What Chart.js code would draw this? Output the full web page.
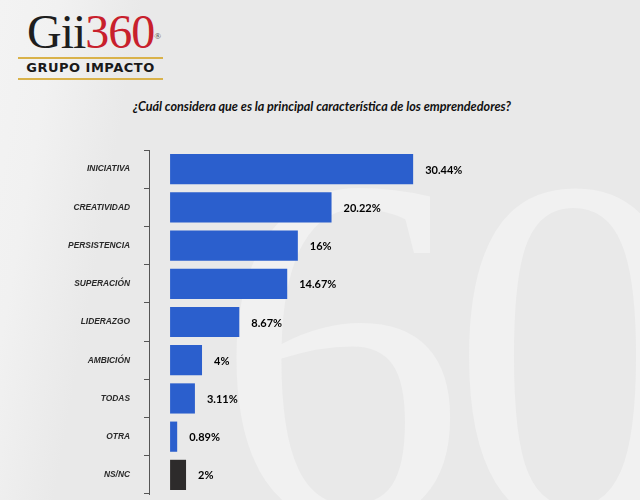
<!DOCTYPE html>
<html>
<head>
<meta charset="utf-8">
<script src="https://cdn.jsdelivr.net/npm/chart.js@4"></script>
<style>
  html, body { margin: 0; padding: 0; }
  body {
    width: 640px; height: 500px; overflow: hidden; position: relative;
    background: linear-gradient(100deg, #f3f3f3 0px, #f1f1f1 60px, #e9e9e9 140px, #e9e9e9 640px);
    font-family: "Lato", sans-serif;
  }
  .watermark {
    position: absolute; left: 0; top: 0;
    font-family: "Liberation Serif", serif; font-size: 500px; line-height: 1;
    color: #f1f1f1; white-space: nowrap;
  }
  .watermark span { position: absolute; }
  .logo { position: absolute; left: 18px; top: 9px; width: 145px; }
  .logo .mark {
    font-family: "Liberation Serif", serif; font-size: 48px; line-height: 46px;
    letter-spacing: -1px; margin-left: 9px;
  }
  .logo .gii { color: #1e1e1e; }
  .logo .n360 { color: #c8202c; }
  .logo sup { font-size: 9px; color: #444; vertical-align: top; position: relative; top: 4px; }
  .logo .bar { height: 2px; background: #d9b24a; margin-top: 2px; }
  .logo .sub {
    font-family: "DejaVu Sans", sans-serif; font-weight: bold; font-size: 13px;
    letter-spacing: 0.5px; color: #1a1a1a; text-align: center; line-height: 17px;
  }
  .title {
    position: absolute; left: 133px; top: 99px;
    font-family: "Lato", sans-serif; font-style: italic; font-weight: bold;
    font-size: 12.6px; color: #111;
  }
  .wrap { position: absolute; left: 0; top: 0; width: 640px; height: 500px; }
</style>
</head>
<body>
<div class="watermark"><span style="left:215px; top:100px;">6</span><span style="left:450px; top:102px;">0</span></div>
<div class="logo">
  <div class="mark"><span class="gii">Gii</span><span class="n360">360</span><sup>®</sup></div>
  <div class="bar"></div>
  <div class="sub">GRUPO IMPACTO</div>
  <div class="bar"></div>
</div>
<div class="title">¿Cuál considera que es la principal característica de los emprendedores?</div>
<div class="wrap"><canvas id="chart" width="640" height="500"></canvas></div>
<script>
const categories = ['INICIATIVA', 'CREATIVIDAD', 'PERSISTENCIA', 'SUPERACIÓN', 'LIDERAZGO', 'AMBICIÓN', 'TODAS', 'OTRA', 'NS/NC'];
const values     = [30.44, 20.22, 16, 14.67, 8.67, 4, 3.11, 0.89, 2];
const valueLabels = ['30.44%', '20.22%', '16%', '14.67%', '8.67%', '4%', '3.11%', '0.89%', '2%'];
const barColors  = ['#2b5fcd', '#2b5fcd', '#2b5fcd', '#2b5fcd', '#2b5fcd', '#2b5fcd', '#2b5fcd', '#2b5fcd', '#2d2b2b'];

// etiquetas de valor a la derecha de cada barra
const valueLabelPlugin = {
    id: 'valueLabel',
    afterDatasetsDraw(chart) {
        const { ctx } = chart;
        const meta = chart.getDatasetMeta(0);
        ctx.save();
        ctx.font         = 'bold 11px "Lato", sans-serif';
        ctx.fillStyle    = '#000';
        ctx.textBaseline = 'middle';
        meta.data.forEach((bar, i) => {
            ctx.fillText(valueLabels[i], bar.x + 12, bar.y + 1);
        });
        ctx.restore();
    }
};

new Chart(document.getElementById('chart').getContext('2d'), {
    type: 'bar',
    data: {
        labels: categories,
        datasets: [{
            data: values,
            backgroundColor: barColors,
            barPercentage: 0.79,
            categoryPercentage: 1
        }]
    },
    plugins: [valueLabelPlugin],
    options: {
        indexAxis: 'y',
        responsive: false,
        animation: false,
        plugins: { legend: { display: false }, tooltip: { enabled: false } },
        layout: { padding: { top: 150, bottom: 6, left: 0, right: 0 } },
        scales: {
            x: {
                display: false,
                min: -2.64,
                max: 58.85
            },
            y: {
                afterFit(scale) {
                    scale.width = 149;
                    scale.paddingTop = 0;
                    scale.paddingBottom = 0;
                },
                border: { display: true, color: '#555', width: 1 },
                grid: { display: true, drawOnChartArea: false, drawTicks: true, tickLength: 5, color: '#555' },
                ticks: {
                    color: '#2a2a2a',
                    padding: 14,
                    font: { family: '"Liberation Sans Narrow", "Liberation Sans", sans-serif', style: 'italic', weight: 'bold', size: 8.4 }
                }
            }
        }
    }
});
</script>
</body>
</html>
